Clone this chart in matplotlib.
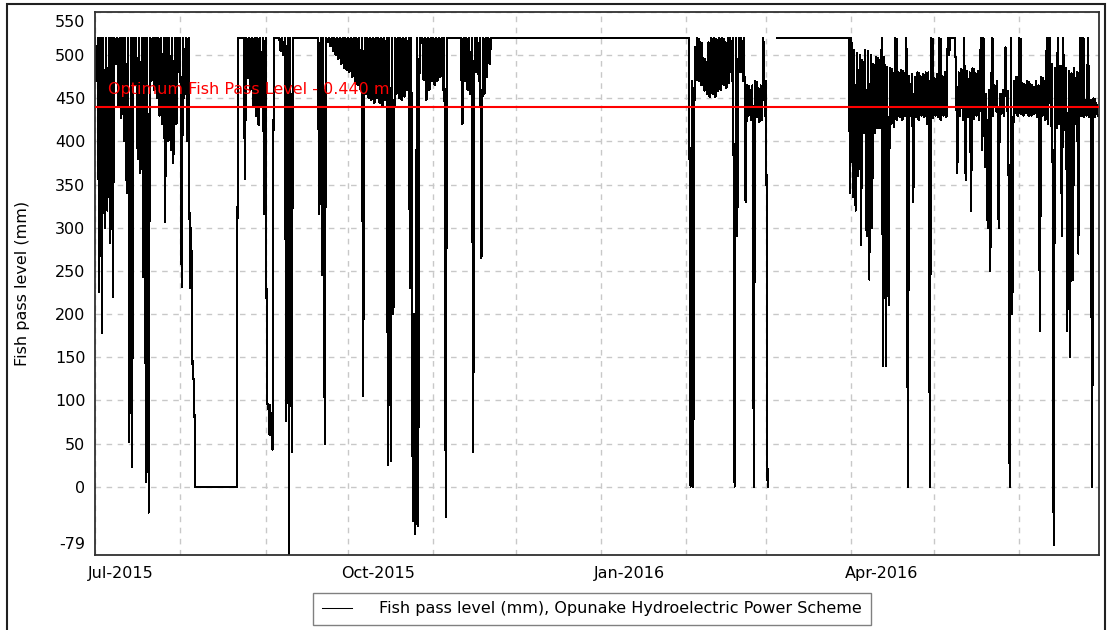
import numpy as np
import pandas as pd
import matplotlib
matplotlib.use("Agg")
import matplotlib.pyplot as plt
import matplotlib.dates as mdates
from matplotlib.patches import Rectangle
from matplotlib.transforms import ScaledTranslation

# None = no data logged that day
jul_2015 = [(520, 470), (520, 226), (520, 178), (520, 300), (520, 320), (520, 282), (520, 220),
            (520, 490), (520, 440), (520, 427), (520, 400), (520, 340), (520, 52), (520, 23),
            (520, 466), (520, 380), (520, 363), (520, 243), (520, 5), (520, -30), (520, 470),
            (520, 460), (520, 450), (520, 430), (520, 420), (520, 307), (520, 400), (520, 390),
            (520, 375), (520, 420), (520, 480)]
aug_2015 = [(520, 231), (520, 450), (520, 400), (520, 230), (300, 125), (125, 0)] + [(0, 0)] * 15 + \
           [(520, 520), (520, 520), (520, 357), (520, 473), (520, 460), (520, 440), (520, 430),
            (520, 419), (520, 440), (520, 316)]
sep_2015 = [(520, 96), (96, 60), (85, 43), (520, 520), (520, 520), (520, 505), (520, 500),
            (520, 76), (520, -79), (520, 40)] + [(520, 520)] * 9 + \
           [(520, 316), (520, 245), (520, 49), (520, 515), (520, 510), (520, 505), (520, 500),
            (520, 495), (520, 490), (520, 485), (520, 483)]
oct_2015 = [(520, 480), (520, 475), (520, 470), (520, 465), (520, 460), (520, 105), (520, 455),
            (520, 450), (520, 448), (520, 445), (520, 450), (520, 445), (520, 440), (520, 448),
            (520, 25), (520, 30), (520, 200), (520, 455), (520, 450), (520, 448), (520, 452),
            (520, 460), (520, 230), (520, -40), (200, -55), (520, -45), (520, 520), (520, 471),
            (520, 448), (520, 460), (520, 470)]
nov_2015 = [(520, 465), (520, 470), (520, 475), (520, 460), (520, -35)] + [(520, 520)] * 5 + \
           [(520, 420), (520, 470), (520, 460), (520, 455), (520, 40), (520, 480), (520, 470),
            (520, 265), (520, 455), (520, 475), (520, 490)] + [(520, 520)] * 9
dec_2015 = [(520, 520)] * 31
jan_2016 = [(520, 520)] * 31
feb_2016 = [(520, 520), (520, 0), (470, 0), (510, 471), (520, 470), (515, 465), (497, 459),
            (492, 455), (515, 451), (520, 455), (520, 452), (518, 458), (520, 460), (520, 465),
            (515, 462), (520, 468), (520, 470), (520, 0), (520, 290), (520, 480), (520, 470),
            (520, 330), (465, 430), (460, 425), (465, 0), (470, 428), (462, 422), (465, 425),
            (520, 430)]
mar_2016 = [(470, 0), (None, None), (None, None), (None, None)] + [(520, 520)] * 26 + [(520, 340)]
apr_2016 = [(520, 336), (506, 320), (502, 360), (500, 280), (495, 410), (506, 290), (505, 240),
            (500, 300), (490, 410), (498, 415), (495, 415), (520, 140), (498, 140), (486, 210),
            (485, 420), (480, 417), (520, 425), (480, 428), (483, 425), (480, 430), (520, 0),
            (476, 430), (478, 330), (475, 428), (480, 425), (476, 430), (478, 428), (480, 420),
            (480, 0), (520, 427)]
may_2016 = [(474, 430), (478, 428), (520, 425), (476, 430), (480, 428), (520, 500), (520, 520),
            (520, 520), (486, 363), (480, 430), (484, 425), (520, 355), (482, 428), (480, 320),
            (485, 426), (479, 430), (482, 425), (520, 390), (520, 370), (455, 300), (460, 250),
            (520, 430), (465, 435), (470, 300), (455, 432), (460, 430), (509, 435), (458, 0),
            (520, 200), (470, 433), (475, 430)]
jun_2016 = [(520, 432), (468, 430), (465, 433), (470, 430), (467, 430), (463, 432), (470, 428),
            (465, 180), (475, 430), (470, 425), (520, 420), (520, 418), (490, -68), (485, 415),
            (520, 420), (488, 290), (520, 413), (485, 180), (482, 150), (479, 240), (485, 420),
            (480, 270), (520, 430), (520, 428), (448, 430), (520, 428), (448, 0), (450, 428),
            (445, 430)]

optimum_level = 440
y_ticks = [-79, 0, 50, 100, 150, 200, 250, 300, 350, 400, 450, 500, 550]
series_label = "Fish pass level (mm), Opunake Hydroelectric Power Scheme"

daily = (jul_2015 + aug_2015 + sep_2015 + oct_2015 + nov_2015 + dec_2015 +
         jan_2016 + feb_2016 + mar_2016 + apr_2016 + may_2016 + jun_2016)
days = pd.date_range("2015-07-01", periods=len(daily), freq="D")
hi = np.array([np.nan if h is None else h for h, l in daily], dtype=float)
lo = np.array([np.nan if l is None else l for h, l in daily], dtype=float)

# draw each day as max -> min so the dense logging looks like the original trace
xs, ys = [], []
for day, h, l in zip(days, hi, lo):
    xs += [day, day + pd.Timedelta(hours=12)]
    ys += [h, l]

plt.rcParams["font.family"] = ["DejaVu Sans"]
plt.rcParams["font.size"] = 11.5

fig = plt.figure(figsize=(11.07, 6.30), dpi=100)
ax = fig.add_axes([95 / 1107, 75 / 630, 1004 / 1107, 543 / 630])

# days where the level just chatters in a narrow range show as a solid black band
dense = np.nan_to_num(hi - lo, nan=999) < 110
ax.fill_between(days, lo, hi, where=dense, step="post", color="black", lw=0, zorder=2)
ax.plot(xs, ys, color="black", lw=0.75, antialiased=False, zorder=2, label=series_label)
ax.axhline(optimum_level, color="red", lw=1.5, zorder=4)
ax.text(pd.Timestamp("2015-07-05 16:00"), optimum_level + 20, "Optimum Fish Pass Level - 0.440 m",
        color="red", va="center", ha="left", zorder=5)

ax.set_xlim(pd.Timestamp("2015-07-01"), pd.Timestamp("2016-06-30"))
ax.set_ylim(-79, 550)
ax.set_yticks(y_ticks)
ax.set_yticklabels([str(v) for v in y_ticks])
ax.xaxis.set_major_locator(mdates.MonthLocator(bymonth=[1, 4, 7, 10]))
ax.xaxis.set_minor_locator(mdates.MonthLocator())
ax.xaxis.set_major_formatter(mdates.DateFormatter("%b-%Y"))

grid_kw = dict(color="#c8c8c8", linestyle=(0, (4, 4)), lw=1.0)
ax.grid(True, which="both", axis="x", **grid_kw)
ax.grid(True, which="major", axis="y", **grid_kw)
ax.set_axisbelow(True)
ax.tick_params(which="both", length=0)
ax.tick_params(axis="y", pad=7)
ax.tick_params(axis="x", pad=8)
for side in ax.spines.values():
    side.set_color("#303030")
    side.set_linewidth(1.3)

ax.set_ylabel("Fish pass level (mm)")
ax.yaxis.set_label_coords(-65 / 1004, 0.5)

# month labels start just left of the month line, end labels of y sit inside the frame
shift = ScaledTranslation(-7 / 100, 0, fig.dpi_scale_trans)
for lbl in ax.get_xticklabels():
    lbl.set_horizontalalignment("left")
    lbl.set_transform(lbl.get_transform() + shift)
ylabels = ax.get_yticklabels()
ylabels[0].set_transform(ylabels[0].get_transform() + ScaledTranslation(0, 12 / 100, fig.dpi_scale_trans))
ylabels[-1].set_transform(ylabels[-1].get_transform() + ScaledTranslation(0, -9 / 100, fig.dpi_scale_trans))

fig.legend(loc="center", bbox_to_anchor=(592 / 1107, 1 - 609 / 630), ncol=1,
           fancybox=False, edgecolor="#808080", framealpha=1, handlelength=1.9,
           handletextpad=1.7, borderpad=0.55, borderaxespad=0)

fig.add_artist(Rectangle((7 / 1107, -0.05), 1098 / 1107, 1.05 - 4 / 630, transform=fig.transFigure,
                         fill=False, edgecolor="#202020", lw=1.5))

fig.savefig("out.png", dpi=100)
